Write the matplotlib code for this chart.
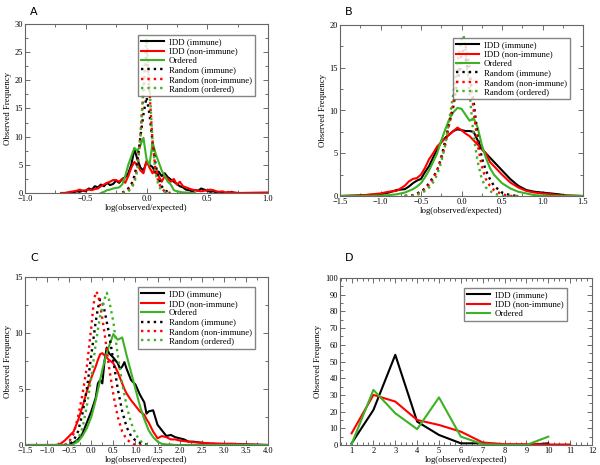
"""Observed/expected frequency distributions, four panels (A-D)."""

import numpy as np
import matplotlib

matplotlib.use("Agg")
import matplotlib.pyplot as plt
from matplotlib.ticker import MultipleLocator

plt.rcParams["font.family"] = ["Liberation Serif", "DejaVu Serif"]

BLACK, RED, GREEN = "#000000", "#ff0000", "#3cb224"
DOT = (0, (1, 1.7))

labels_full = ["IDD (immune)", "IDD (non-immune)", "Ordered",
               "Random (immune)", "Random (non-immune)", "Random (ordered)"]

# ---------------------------------------------------------------- panel A
a_x_idd = np.round(np.arange(-0.7, 0.751, 0.025), 3)
a_idd_imm = [0, 0, 0, 0.2, 0.1, 0.3, 0.2, 0.4, 0.3, 0.8, 0.6, 1.2, 1.0, 1.5, 1.2,
             1.8, 1.4, 1.6, 2.2, 1.8, 2.5, 2.8, 3.5, 5.0, 7.8, 6.0, 4.5, 4.0, 5.5,
             5.0, 4.6, 3.5, 3.8, 3.0, 3.5, 2.8, 2.4, 2.0, 1.6, 1.2, 1.0, 0.6, 0.5,
             0.3, 0.5, 0.4, 0.8, 0.6, 0.4, 0.2, 0.3, 0.1, 0.2, 0.1, 0.0, 0.1, 0.2,
             0, 0]
a_idd_non = [0, 0, 0.1, 0.2, 0.3, 0.4, 0.6, 0.4, 0.5, 0.6, 0.5, 0.7, 0.8, 1.2, 1.5,
             1.8, 2.0, 2.3, 2.3, 2.0, 2.5, 1.8, 3.0, 4.5, 5.5, 5.0, 4.0, 3.5, 5.7,
             4.5, 3.5, 4.5, 3.0, 2.0, 3.0, 2.5, 2.0, 2.5, 1.5, 2.0, 1.2, 1.0, 0.8,
             0.6, 0.5, 0.4, 0.3, 0.4, 0.5, 0.6, 0.5, 0.3, 0.2, 0.3, 0.1, 0.2, 0.1,
             0.1, 0]
a_x_ord = np.round(np.arange(-0.375, 0.401, 0.025), 3)
a_ord = [0, 0.2, 0.5, 0.6, 0.8, 0.9, 1.0, 1.5, 3.0, 5.0, 6.5, 8.0, 7.5, 8.5, 9.8,
         6.0, 5.0, 9.0, 7.0, 5.5, 4.0, 3.0, 2.0, 1.5, 0.5, 0.3, 0.2, 0.1, 0.1, 0.05,
         0, 0]
a_x_rnd = np.round(np.arange(-0.2, 0.201, 0.025), 3)
a_rnd_imm = [0.1, 0.3, 0.8, 1.5, 3.0, 5.5, 10.0, 14.0, 17.0, 14.0, 9.0, 5.0, 2.5,
             1.2, 0.5, 0.2, 0]
a_rnd_non = [0, 0.2, 0.5, 1.0, 2.2, 4.5, 10.0, 18.0, 25.0, 18.0, 9.0, 4.0, 1.8,
             0.8, 0.3, 0.1, 0]
a_rnd_ord = [0, 0.1, 0.3, 0.8, 1.8, 4.0, 10.0, 19.0, 27.5, 19.0, 9.0, 3.5, 1.2,
             0.5, 0.2, 0, 0]

# ---------------------------------------------------------------- panel B
b_x = [-1.5, -1.3, -1.2, -1.1, -1.0, -0.9, -0.8, -0.7, -0.65, -0.6, -0.55, -0.5,
       -0.45, -0.4, -0.35, -0.3, -0.25, -0.2, -0.15, -0.1, -0.05, 0, 0.05, 0.1,
       0.15, 0.2, 0.25, 0.3, 0.35, 0.4, 0.5, 0.6, 0.7, 0.8, 0.9, 1.0, 1.1, 1.2,
       1.3, 1.5]
b_idd_imm = [0, 0.05, 0.1, 0.15, 0.2, 0.4, 0.7, 0.8, 1.1, 1.5, 1.8, 2.0, 2.8, 3.5,
             4.5, 5.5, 6.3, 6.8, 7.2, 7.6, 7.8, 7.7, 7.6, 7.6, 7.5, 6.5, 5.5, 5.0,
             4.5, 4.0, 3.0, 2.0, 1.2, 0.7, 0.5, 0.4, 0.3, 0.2, 0.05, 0]
b_idd_non = [0, 0.05, 0.1, 0.2, 0.3, 0.5, 0.6, 1.2, 1.7, 2.0, 2.1, 2.5, 3.3, 4.3,
             5.0, 5.8, 6.3, 6.8, 7.2, 7.6, 8.0, 7.7, 7.3, 7.0, 6.5, 6.0, 5.5, 5.0,
             4.0, 3.5, 2.5, 1.6, 1.0, 0.6, 0.4, 0.3, 0.2, 0.1, 0.05, 0]
b_ord = [0, 0, 0, 0, 0.05, 0.1, 0.2, 0.4, 0.6, 0.8, 1.1, 1.5, 2.2, 3.0, 4.0, 5.0,
         6.5, 7.8, 9.0, 9.8, 10.3, 10.2, 9.5, 8.8, 9.1, 8.0, 6.0, 4.5, 3.3, 2.5,
         1.5, 0.9, 0.5, 0.3, 0.1, 0.05, 0, 0, 0, 0]
b_x_rnd = [-0.7, -0.6, -0.5, -0.45, -0.4, -0.35, -0.3, -0.25, -0.2, -0.15, -0.1,
           -0.05, 0, 0.025, 0.05, 0.1, 0.15, 0.2, 0.25, 0.3, 0.35, 0.4, 0.5, 0.6,
           0.7]
b_rnd_imm = [0, 0.1, 0.5, 0.9, 1.5, 2.2, 3.0, 4.5, 6.5, 8.5, 10.5, 13.5, 15.5,
             15.8, 16.0, 14.0, 11.0, 7.0, 4.5, 3.0, 2.0, 1.2, 0.4, 0.1, 0]
b_rnd_non = [0, 0.1, 0.4, 0.8, 1.3, 2.0, 3.0, 4.3, 6.0, 8.5, 11.0, 14.0, 16.5,
             17.2, 17.5, 15.0, 10.0, 6.0, 3.5, 2.0, 1.2, 0.7, 0.2, 0, 0]
b_rnd_ord = [0, 0, 0.3, 0.6, 1.0, 1.6, 2.5, 4.0, 6.0, 9.0, 12.0, 15.5, 18.3, 18.8,
             17.0, 12.0, 7.0, 4.0, 2.0, 1.0, 0.6, 0.3, 0, 0, 0]

# ---------------------------------------------------------------- panel C
c_x = [-1.5, -0.8, -0.7, -0.6, -0.5, -0.4, -0.3, -0.2, -0.1, 0, 0.1, 0.15, 0.2,
       0.25, 0.3, 0.35, 0.4, 0.5, 0.6, 0.65, 0.7, 0.75, 0.8, 0.9, 1.0, 1.1, 1.2,
       1.25, 1.3, 1.4, 1.5, 1.6, 1.7, 1.8, 1.9, 2.0, 2.1, 2.2, 2.3, 2.5, 2.7,
       3.0, 3.2, 3.5, 4.0]
c_idd_imm = [0, 0, 0, 0, 0, 0.2, 0.5, 1.0, 2.0, 3.0, 4.2, 5.5, 5.8, 5.5, 7.5, 8.7,
             8.2, 7.8, 7.3, 6.8, 7.0, 7.4, 6.8, 5.8, 5.4, 4.5, 3.8, 2.8, 3.0, 3.1,
             1.8, 1.3, 0.8, 0.9, 0.7, 0.6, 0.5, 0.3, 0.3, 0.2, 0.1, 0.1, 0.1, 0.05,
             0]
c_idd_non = [0, 0, 0.1, 0.4, 0.8, 1.2, 2.2, 3.4, 4.8, 6.0, 7.0, 7.6, 8.1, 8.2, 8.0,
             7.8, 7.6, 7.3, 6.5, 6.0, 5.5, 5.0, 4.6, 4.0, 3.5, 3.0, 2.7, 2.3, 2.0,
             1.2, 0.6, 0.8, 0.7, 0.5, 0.5, 0.4, 0.35, 0.3, 0.25, 0.2, 0.15, 0.1,
             0.1, 0.05, 0]
c_ord = [0, 0, 0, 0, 0, 0.1, 0.3, 0.8, 1.5, 2.5, 4.0, 4.9, 5.8, 6.7, 7.5, 8.2, 8.8,
         9.9, 9.4, 9.5, 9.6, 8.8, 8.0, 6.5, 5.0, 3.5, 2.3, 1.8, 1.3, 0.7, 0.3,
         0.1, 0.05, 0.05, 0, 0, 0, 0, 0, 0, 0, 0, 0, 0, 0]
c_x_rnd = [-0.6, -0.5, -0.4, -0.3, -0.2, -0.1, 0, 0.05, 0.1, 0.15, 0.2, 0.25, 0.3,
           0.35, 0.4, 0.5, 0.6, 0.7, 0.8, 0.9, 1.0, 1.1, 1.2, 1.3]
c_rnd_imm = [0, 0, 0.4, 1.2, 2.8, 5.0, 8.0, 9.5, 11.0, 12.2, 13.0, 12.8, 12.0,
             11.0, 10.0, 7.5, 5.0, 3.0, 1.6, 0.8, 0.4, 0.2, 0.1, 0]
c_rnd_non = [0, 0.3, 1.0, 2.5, 4.5, 7.0, 10.5, 12.5, 13.7, 13.5, 12.5, 11.3, 10.0,
             8.5, 7.0, 4.5, 2.5, 1.2, 0.5, 0.2, 0, 0, 0, 0]
c_rnd_ord = [0, 0, 0, 0.5, 1.5, 3.5, 6.0, 7.5, 9.0, 10.3, 11.5, 12.3, 13.0, 13.6,
             13.0, 11.0, 8.0, 5.5, 3.5, 2.0, 1.0, 0.4, 0.1, 0]

# ---------------------------------------------------------------- panel D
d_x = [1, 2, 3, 4, 5, 6, 7, 8, 9, 10, 11]
d_idd_imm = [1, 21, 54, 14, 6, 1, 1, 0, 0, 1, None]
d_idd_non = [7, 30, 26, 15, 12, 8, 1.5, 0.5, 0.5, 0.3, 0.3]
d_ord = [0.5, 33, 19, 9.5, 28.5, 5, 0.5, 0, 0, 5, None]

W, H = 600, 465
fig = plt.figure(figsize=(W / 100, H / 100), dpi=100)


def px_axes(l, t, r, b):
    return fig.add_axes([l / W, 1 - b / H, (r - l) / W, (b - t) / H])


def style(ax, xlim, ylim, xmaj, xmin, ymaj, ymin):
    ax.set_xlim(*xlim)
    ax.set_ylim(*ylim)
    ax.xaxis.set_major_locator(MultipleLocator(xmaj))
    ax.xaxis.set_minor_locator(MultipleLocator(xmin))
    ax.yaxis.set_major_locator(MultipleLocator(ymaj))
    ax.yaxis.set_minor_locator(MultipleLocator(ymin))
    ax.tick_params(which="both", direction="in", top=True, right=True,
                   labelsize=6, pad=1.5, width=0.6, colors="#555555",
                   labelcolor="black")
    ax.tick_params(which="major", length=3.5)
    ax.tick_params(which="minor", length=2)
    for s in ax.spines.values():
        s.set_color("#666666")
        s.set_linewidth(0.8)
    ax.set_xlabel("log(observed/expected)", fontsize=6.3, labelpad=0.5)
    ax.set_ylabel("Observed Frequency", fontsize=6.3, labelpad=2)


def legend(ax, anchor):
    ax.legend(loc="upper right", bbox_to_anchor=anchor, fontsize=6.3,
              frameon=True, fancybox=False, edgecolor="#666666",
              handlelength=2.6, handletextpad=0.6, labelspacing=0.15,
              borderpad=0.35, borderaxespad=0)


def panel_full(ax, xi, imm, non, ordd, xo, xr, rimm, rnon, rord):
    ax.plot(xi, imm, color=BLACK, lw=1.5, label=labels_full[0])
    ax.plot(xi, non, color=RED, lw=1.5, label=labels_full[1])
    ax.plot(xo, ordd, color=GREEN, lw=1.5, label=labels_full[2])
    ax.plot(xr, rimm, color=BLACK, lw=1.7, ls=DOT, label=labels_full[3])
    ax.plot(xr, rnon, color=RED, lw=1.7, ls=DOT, label=labels_full[4])
    ax.plot(xr, rord, color=GREEN, lw=1.7, ls=DOT, label=labels_full[5])


# A
axA = px_axes(25, 24, 268, 193)
panel_full(axA, a_x_idd, a_idd_imm, a_idd_non, a_ord, a_x_ord,
           a_x_rnd, a_rnd_imm, a_rnd_non, a_rnd_ord)
axA.plot([0.75, 1.0], [0, 0.1], color=RED, lw=1.5)
style(axA, (-1, 1), (0, 30), 0.5, 0.25, 5, 2.5)
legend(axA, (0.947, 0.935))

# B
axB = px_axes(340, 25, 583, 196)
panel_full(axB, b_x, b_idd_imm, b_idd_non, b_ord, b_x,
           b_x_rnd, b_rnd_imm, b_rnd_non, b_rnd_ord)
style(axB, (-1.5, 1.5), (0, 20), 0.5, 0.25, 5, 2.5)
legend(axB, (0.946, 0.924))

# C
axC = px_axes(25, 277, 268, 445)
panel_full(axC, c_x, c_idd_imm, c_idd_non, c_ord, c_x,
           c_x_rnd, c_rnd_imm, c_rnd_non, c_rnd_ord)
style(axC, (-1.5, 4), (0, 15), 0.5, 0.25, 5, 2.5)
legend(axC, (0.947, 0.94))

# D
axD = px_axes(340, 278, 592, 445)
dx = np.array(d_x, dtype=float)
axD.plot(dx, np.array(d_idd_imm, dtype=float), color=BLACK, lw=1.5,
         label=labels_full[0])
axD.plot(dx, np.array(d_idd_non, dtype=float), color=RED, lw=1.5,
         label=labels_full[1])
axD.plot(dx, np.array(d_ord, dtype=float), color=GREEN, lw=1.5,
         label=labels_full[2])
style(axD, (0.47, 12), (0, 100), 1, 0.25, 10, 5)
legend(axD, (0.90, 0.94))

# panel letters
for letter, x, y in (("A", 30, 12), ("B", 345, 12), ("C", 30, 258), ("D", 345, 258)):
    fig.text(x / W, 1 - y / H, letter, fontsize=8, family="DejaVu Sans",
             ha="left", va="center")

fig.savefig("out.png", dpi=100)
